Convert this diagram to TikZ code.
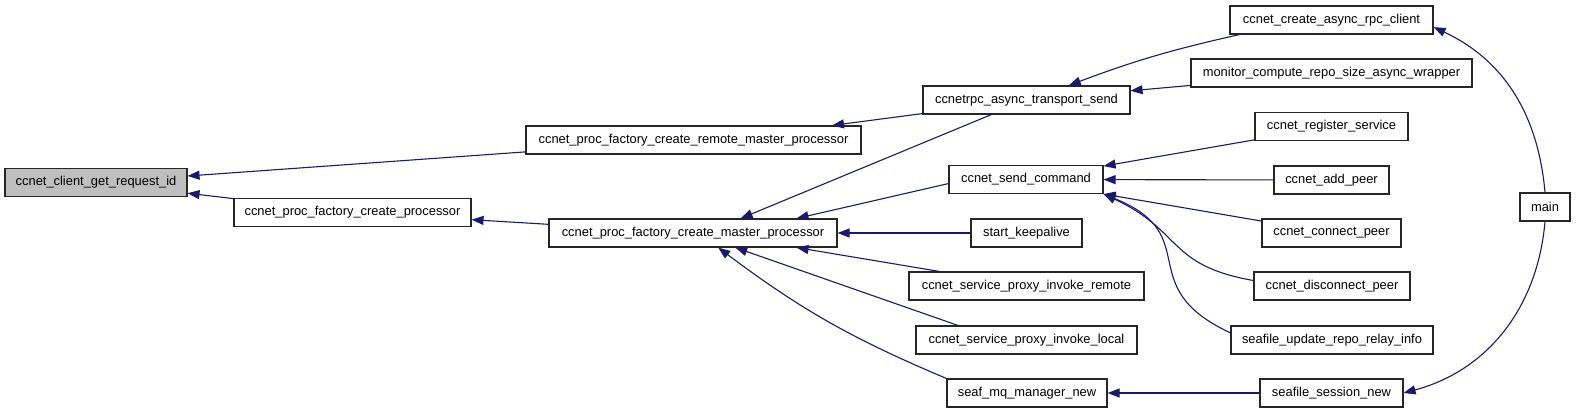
\documentclass[tikz,border=0pt]{standalone}
\usepackage{fontspec}
\setmainfont{Liberation Sans}
\usepackage{xcolor}
\usetikzlibrary{arrows.meta,shapes}
\definecolor{callblue}{RGB}{25,25,112}
\definecolor{boxgray}{RGB}{191,191,191}

\begin{document}
\begin{tikzpicture}[x=1pt, y=-1pt, fn node/.style={rectangle, draw=black!85, line width=1.1pt, minimum height=28pt, inner sep=0pt, font=\fontsize{12.9}{15}\selectfont}, this node/.style={fn node, fill=boxgray}, call/.style={color=callblue, line width=1.1pt, {Triangle[length=12pt,width=9pt]}-}]
\useasboundingbox (0,0) rectangle (1576,413);
\node[this node, minimum width=182pt] (1) at (96,182.5) {ccnet\_client\_get\_request\_id};
\node[fn node, minimum width=237pt] (2) at (352.5,212.5) {ccnet\_proc\_factory\_create\_processor};
\node[fn node, minimum width=335pt] (3) at (693.5,140) {ccnet\_proc\_factory\_create\_remote\_master\_processor};
\node[fn node, minimum width=288pt] (4) at (693,233) {ccnet\_proc\_factory\_create\_master\_processor};
\node[fn node, minimum width=207pt] (5) at (1026.5,100) {ccnetrpc\_async\_transport\_send};
\node[fn node, minimum width=154pt] (6) at (1026,179.5) {ccnet\_send\_command};
\node[fn node, minimum width=111pt] (7) at (1026.5,233) {start\_keepalive};
\node[fn node, minimum width=235pt] (8) at (1026.5,286) {ccnet\_service\_proxy\_invoke\_remote};
\node[fn node, minimum width=221pt] (9) at (1026.5,340) {ccnet\_service\_proxy\_invoke\_local};
\node[fn node, minimum width=160pt] (10) at (1027,393) {seaf\_mq\_manager\_new};
\node[fn node, minimum width=203pt] (11) at (1331.5,20) {ccnet\_create\_async\_rpc\_client};
\node[fn node, minimum width=281pt] (12) at (1331.5,73) {monitor\_compute\_repo\_size\_async\_wrapper};
\node[fn node, minimum width=153pt] (13) at (1331.5,126.5) {ccnet\_register\_service};
\node[fn node, minimum width=115pt] (14) at (1331.5,180) {ccnet\_add\_peer};
\node[fn node, minimum width=139pt] (15) at (1331.5,233) {ccnet\_connect\_peer};
\node[fn node, minimum width=156pt] (16) at (1332,286) {ccnet\_disconnect\_peer};
\node[fn node, minimum width=202pt] (17) at (1332,340) {seafile\_update\_repo\_relay\_info};
\node[fn node, minimum width=143pt] (18) at (1331.5,393) {seafile\_session\_new};
\node[fn node, minimum width=50pt] (19) at (1545,207) {main};
\path[call]
(1) edge (3)
(1) edge (2)
(2) edge (4)
(3.6.3) edge (5)
(4.17.6) edge (5)
(4.8.5) edge (6.183)
(4) edge (7)
(4.-8.2) edge (8)
(4.-19.3) edge (9.168.6)
(4.-30.3) edge[bend right=7] (10.north west)
(5.19) edge[bend left=4] (11.189.5)
(5) edge (12)
(6) edge (13)
(6) edge (14)
(6.south east) edge (15)
(6.south east) edge[out=-25, in=170, looseness=1.3] (16.176)
(6.south east) edge[out=-22, in=155, looseness=1.5] (17.176)
(11.-4) edge[out=-25, in=95] (19.north)
(10) edge (18)
(18.east) edge[out=15, in=-95] (19.south);
\end{tikzpicture}
\end{document}
